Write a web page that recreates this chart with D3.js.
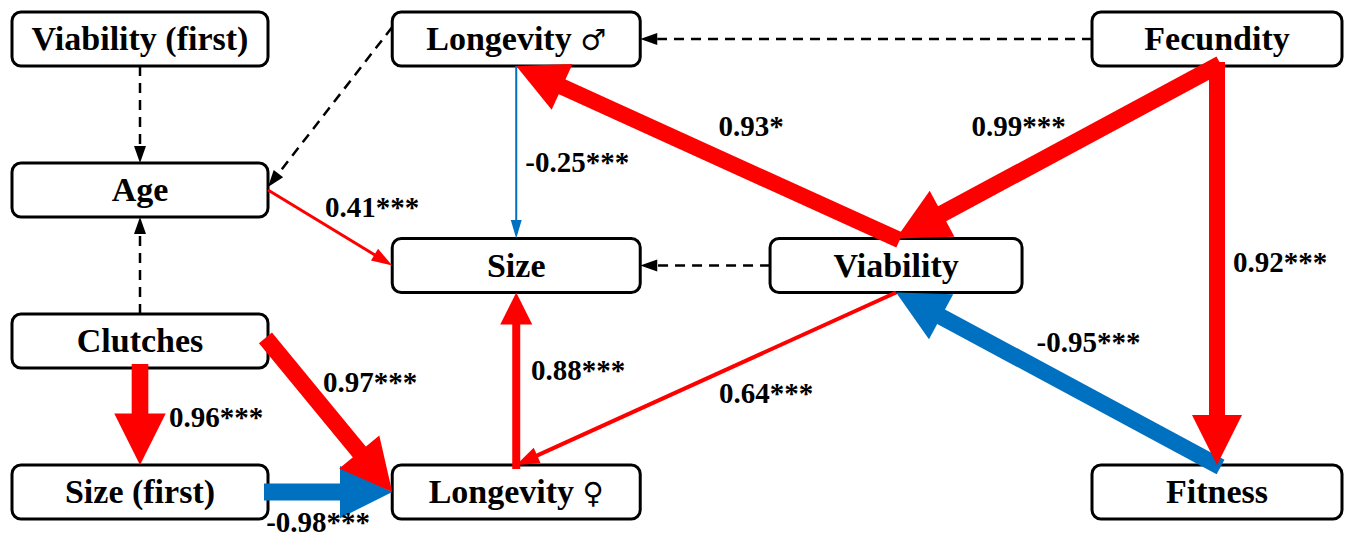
<!DOCTYPE html>
<html>
<head>
<meta charset="utf-8">
<script src="https://cdn.jsdelivr.net/npm/d3@7/dist/d3.min.js"></script>
<style>
  html, body { margin: 0; padding: 0; background: #fff; }
  svg { display: block; }
</style>
</head>
<body>
<svg id="chart" width="1352" height="537"></svg>
<script>
// ---------- DATA ----------
const nodeNames = ["Viability (first)", "Longevity ♂", "Fecundity", "Age", "Size",
                   "Viability", "Clutches", "Size (first)", "Longevity ♀", "Fitness"];

const edgeFrom = ["Viability (first)", "Clutches", "Longevity ♂", "Fecundity", "Viability",
                  "Longevity ♂", "Age", "Viability", "Fecundity", "Fitness", "Fecundity",
                  "Viability", "Longevity ♀", "Clutches", "Size (first)", "Clutches"];
const edgeTo   = ["Age", "Age", "Age", "Longevity ♂", "Size",
                  "Size", "Size", "Longevity ♂", "Viability", "Viability", "Fitness",
                  "Longevity ♀", "Size", "Size (first)", "Longevity ♀", "Longevity ♀"];
// null = non-significant path (dashed)
const edgeCoef = [null, null, null, null, null,
                  -0.25, 0.41, 0.93, 0.99, -0.95, 0.92,
                  0.64, 0.88, 0.96, -0.98, 0.97];
const edgeSig  = ["", "", "", "", "",
                  "***", "***", "*", "***", "***", "***",
                  "***", "***", "***", "***", "***"];

// ---------- LAYOUT ----------
const nodeCol = [0, 1.048, 3, 0, 1.048, 2.106, 0, 0, 1.048, 3];
const nodeRow = [0, 0, 0, 2, 3, 3, 4, 6, 6, 6];
const colBoxW = {0: 256, 1.048: 248, 2.106: 252, 3: 250};
const boxH = 54;

const fromSide = ["b","t","l","l","l","b","r","t","b","t","b","b","t","b","r","r"];
const toSide   = ["t","b","r","r","r","t","l","b","t","b","t","t","b","t","l","l"];
const fromOff  = [0,0,-12,0,0,0,0,0,0,0,0,0,0,0,0,0];
const toOff    = [0,0,-3,0,0,0,0,0,0,0,0,0,0,0,0,0];
// label offsets from path midpoint
const labDx = [0,0,0,0,0, 61, 42, 45, -38, 32, 63, 60, 62, 76, -12, 40];
const labDy = [0,0,0,0,0, 10, -21, -26, -26, -37, -4, 14, -9, 0, 30, -35];

// ---------- SCALES ----------
const x = d3.scaleLinear().domain([0, 3]).range([140, 1217]);
const y = d3.scaleLinear().domain([0, 6]).range([39, 492]);
const widthScale = d3.scaleLinear()
  .domain([0.25, 0.41, 0.64, 0.88, 0.92, 0.98])
  .range([2, 3, 4, 8, 16, 17]).clamp(true);
const RED = "#ff0000", BLUE = "#0070c0";
const SERIF = "Liberation Serif";
const SYMF = "DejaVu Serif";
const fmt = d3.formatLocale({decimal: ".", thousands: ",", grouping: [3], currency: ["", ""], minus: "-"}).format(".2f");

const svg = d3.select("#chart");

const nodes = nodeNames.map((n, i) => ({
  name: n, cx: x(nodeCol[i]), cy: y(nodeRow[i]), w: colBoxW[nodeCol[i]], h: boxH
}));
const byName = new Map(nodes.map(d => [d.name, d]));

function anchor(nd, side, off) {
  if (side === "t") return [nd.cx + off, nd.cy - nd.h / 2];
  if (side === "b") return [nd.cx + off, nd.cy + nd.h / 2];
  if (side === "l") return [nd.cx - nd.w / 2, nd.cy + off];
  return [nd.cx + nd.w / 2, nd.cy + off];
}

// boxes
svg.append("g").selectAll("rect").data(nodes).join("rect")
  .attr("x", d => d.cx - d.w / 2).attr("y", d => d.cy - d.h / 2)
  .attr("width", d => d.w).attr("height", d => d.h)
  .attr("rx", 9).attr("ry", 9)
  .attr("fill", "#fff").attr("stroke", "#000").attr("stroke-width", 3);

const edges = edgeFrom.map((f, i) => {
  const s = anchor(byName.get(f), fromSide[i], fromOff[i]);
  const t = anchor(byName.get(edgeTo[i]), toSide[i], toOff[i]);
  return {i, s, t, coef: edgeCoef[i], sig: edgeSig[i]};
});

const gEdges = svg.append("g");
const line = d3.line();
edges.forEach(e => {
  const dxv = e.t[0] - e.s[0], dyv = e.t[1] - e.s[1];
  const len = Math.hypot(dxv, dyv);
  const u = [dxv / len, dyv / len];
  const n = [-u[1], u[0]];
  let w, hl, hw, color, inset, dash = null;
  if (e.coef === null) {
    w = 2.5; hl = 17; hw = 12; color = "#000"; inset = 0; dash = "10,7";
  } else {
    w = widthScale(Math.abs(e.coef));
    hl = 14 + 2.25 * w;
    hw = hl * Math.min(1, 0.45 + 0.07 * w);
    color = e.coef < 0 ? BLUE : RED;
    inset = w > 6 ? 4 : 0;
  }
  const p0 = [e.s[0] - u[0] * inset, e.s[1] - u[1] * inset];
  const base = [e.t[0] - u[0] * hl, e.t[1] - u[1] * hl];
  const shaftEnd = dash ? base : [base[0] + u[0], base[1] + u[1]];
  const sh = gEdges.append("path")
    .attr("d", line([p0, shaftEnd]))
    .attr("stroke", color).attr("stroke-width", w).attr("fill", "none");
  if (dash) sh.attr("stroke-dasharray", dash);
  gEdges.append("path")
    .attr("d", line([e.t,
      [base[0] + n[0] * hw / 2, base[1] + n[1] * hw / 2],
      [base[0] - n[0] * hw / 2, base[1] - n[1] * hw / 2]]) + "Z")
    .attr("fill", color);
  e.mid = [(e.s[0] + e.t[0]) / 2, (e.s[1] + e.t[1]) / 2];
});

// path coefficient labels
svg.append("g").selectAll("text").data(edges.filter(e => e.coef !== null)).join("text")
  .attr("x", e => e.mid[0] + labDx[e.i])
  .attr("y", e => e.mid[1] + labDy[e.i])
  .attr("dy", "0.35em")
  .attr("text-anchor", "middle")
  .attr("font-family", SERIF).attr("font-weight", "bold").attr("fill", "#000")
  .attr("font-size", 29)
  .text(e => fmt(e.coef) + e.sig);

// node labels (sex symbols drawn with a font that has them)
const nodeText = svg.append("g").selectAll("text").data(nodes).join("text")
  .attr("x", d => d.cx).attr("y", d => d.cy)
  .attr("dy", "0.33em")
  .attr("text-anchor", "middle")
  .attr("font-family", SERIF).attr("font-weight", "bold").attr("fill", "#000")
  .attr("font-size", 34);
nodeText.each(function(d) {
  const m = d.name.match(/^(.*?)([♂♀])$/);
  const t = d3.select(this);
  if (m) {
    t.append("tspan").text(m[1]);
    t.append("tspan").attr("font-family", SYMF).attr("font-weight", "normal")
      .attr("font-size", 29).text(m[2]);
  } else {
    t.text(d.name);
  }
});
</script>
</body>
</html>
